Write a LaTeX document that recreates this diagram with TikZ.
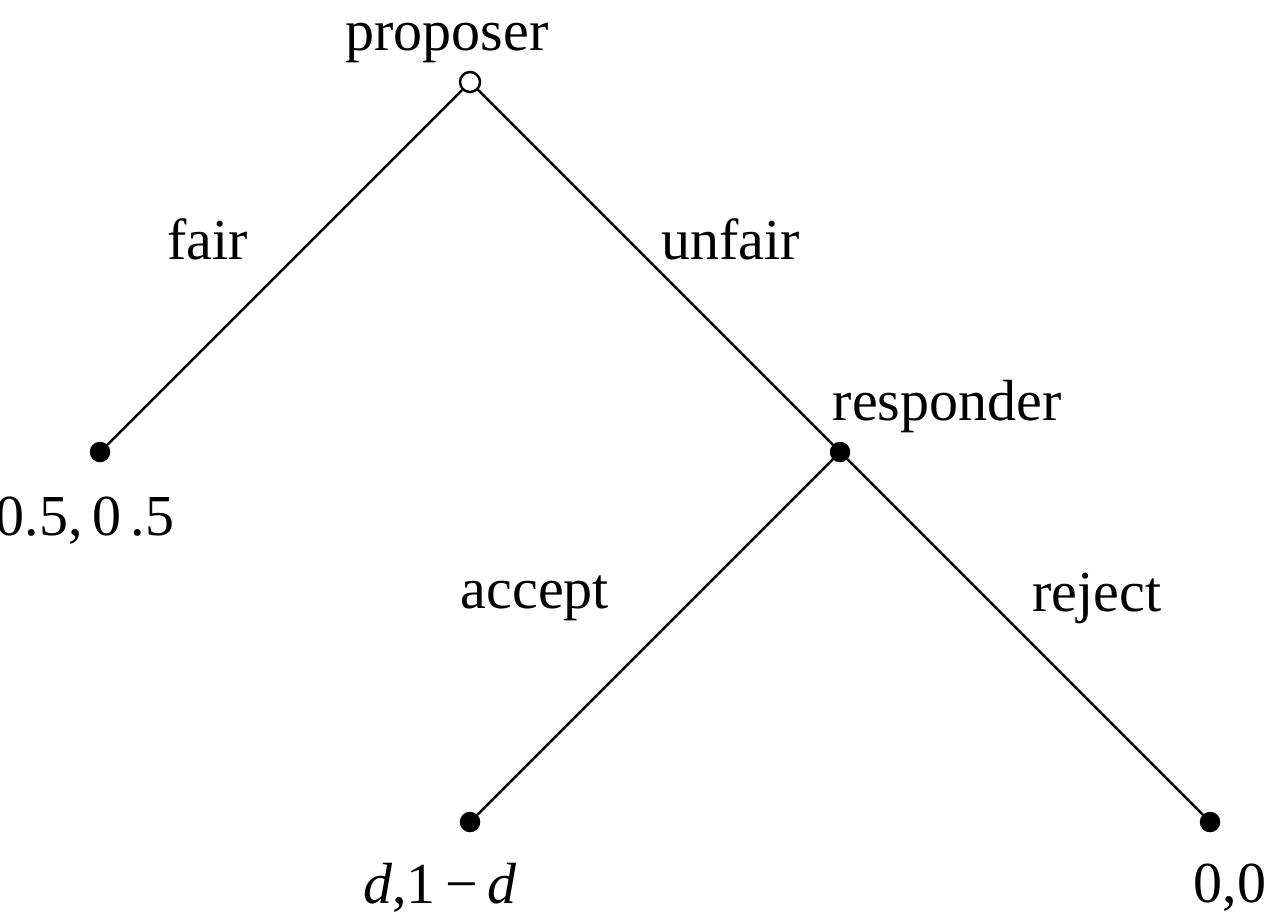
\documentclass[tikz,border=0pt]{standalone}
\usepackage{fontspec}
\setmainfont{Liberation Serif}
\tikzset{
  decision/.style = {circle, inner sep=0pt, minimum size=0.2cm, draw=black, fill=white, line width=0.7pt},
  terminal/.style = {decision, minimum size=0.18cm, fill=black},
  payoff/.style = {inner sep=0pt, font=\fontsize{16.5}{20}\selectfont},
  move/.style = {payoff}
}

\begin{document}
\begin{tikzpicture}[level distance=3.7cm, sibling distance=7.4cm,
    edge from parent/.style={draw, line width=0.7pt}]
  \useasboundingbox (0,0) rectangle (12.8,9.2);
      \node [decision] (root) at (4.7,8.38) {}
        child{ node [terminal] (fairleaf) {}
          edge from parent node [move, xshift=-0.77cm, yshift=0.28cm] (fairlbl) {fair}
        }
        child{ node [terminal] (resp) {}
          child{ node [terminal] (acceptleaf) {}
            edge from parent node [move, xshift=-1.2cm, yshift=0.39cm] (acceptlbl) {accept}
          }
          child{ node [terminal] (rejectleaf) {}
            edge from parent node [move, xshift=0.72cm, yshift=0.39cm] (rejectlbl) {reject}
          }
          edge from parent node [move, xshift=0.75cm, yshift=0.28cm] (unfairlbl) {unfair}
        };
      \node [payoff] (proposerlbl) at ([shift={(-0.23,0.39)}]root) {proposer};
      \node [payoff] (resplbl) at ([shift={(1.07,0.45)}]resp) {responder};
      \node [payoff] (fairpay) at ([shift={(-0.15,-0.69)}]fairleaf) {0.5,\,0\,.5};
      \node [payoff] (acceptpay) at ([shift={(-0.3,-0.66)}]acceptleaf) {\textit{d},1\,−\,\textit{d}};
      \node [payoff] (rejectpay) at ([shift={(0.2,-0.66)}]rejectleaf) {0,0};
\end{tikzpicture}
\end{document}
